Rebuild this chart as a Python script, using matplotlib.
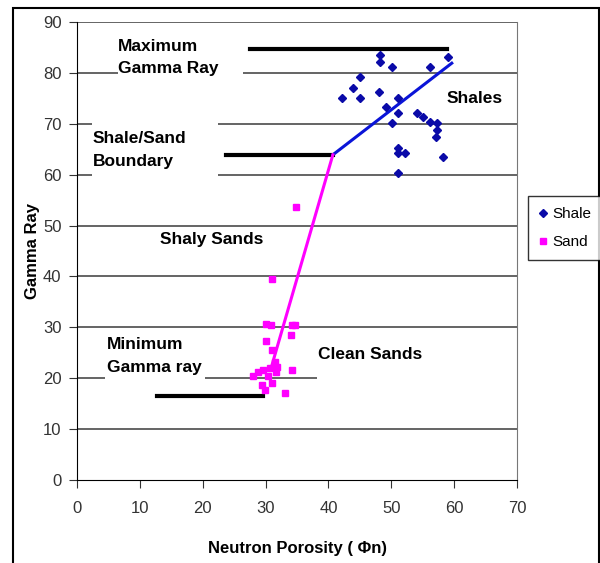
import numpy as np
import matplotlib.pyplot as plt
from matplotlib.patches import Rectangle

# fonte parecida com Arial
plt.rcParams['font.family'] = ['Liberation Sans', 'DejaVu Sans']

# Dados - folhelho (Shale)
shale_x = [42.1, 43.9, 45.0, 45.0, 48.2, 48.2, 48.0, 50.1, 51.0, 49.1, 50.1, 51.0,
           51.0, 51.0, 52.1, 51.0, 54.0, 55.0, 56.1, 56.1, 57.2, 57.2, 57.1, 58.2, 59.0]
shale_y = [75.0, 77.0, 79.2, 75.0, 83.5, 82.1, 76.2, 81.1, 75.0, 73.3, 70.1, 72.1,
           65.2, 64.2, 64.2, 60.3, 72.1, 71.3, 81.1, 70.3, 70.1, 68.8, 67.4, 63.5, 83.1]

# Dados - arenito (Sand)
sand_x = [34.8, 31.0, 30.0, 30.8, 34.2, 34.7, 34.0, 30.0, 31.0, 31.5, 34.2, 28.0,
          28.8, 29.6, 30.7, 31.8, 29.4, 29.9, 31.0, 33.1, 30.4, 31.6]
sand_y = [53.6, 39.5, 30.6, 30.5, 30.5, 30.5, 28.5, 27.3, 25.5, 23.2, 21.6, 20.4,
          21.2, 21.6, 22.0, 22.2, 18.7, 17.7, 19.1, 17.1, 20.4, 21.2]

# Linhas de tendencia
shale_line_x = [40.7, 59.6]
shale_line_y = [63.9, 81.9]
sand_line_x = [31.0, 40.7]
sand_line_y = [22.5, 63.9]

# Linhas pretas (limites)
max_gr_x = [27.5, 58.8]
max_gr = 84.7
bound_x = [23.7, 40.7]
bound_gr = 63.9
min_gr_x = [12.7, 29.6]
min_gr = 16.5

fig = plt.figure(figsize=(6, 5.63), dpi=100)
ax = fig.add_axes([0.128, 0.1474, 0.734, 0.8136])

ax.set_xlim(0, 70)
ax.set_ylim(0, 90)
ax.set_xticks(range(0, 71, 10))
ax.set_yticks(range(0, 91, 10))

# grade horizontal
for g in range(10, 91, 10):
    ax.axhline(g, color='#3a3a3a', lw=1.1, zorder=1)

# caixas brancas atras dos textos (cobrem a grade)
caixas = [(6.5, 76, 19.9, 13), (2.4, 58, 20.0, 14), (4.5, 18, 15.8, 11), (38.2, 18, 31.8, 10)]
for (x0, y0, w, h) in caixas:
    ax.add_patch(Rectangle((x0, y0), w, h, facecolor='white', edgecolor='none', zorder=2))

ax.plot(max_gr_x, [max_gr, max_gr], color='black', lw=3, zorder=3)
ax.plot(bound_x, [bound_gr, bound_gr], color='black', lw=3, zorder=3)
ax.plot(min_gr_x, [min_gr, min_gr], color='black', lw=3, zorder=3)

ax.plot(shale_line_x, shale_line_y, color='#0a14d8', lw=2.2, zorder=4)
ax.plot(sand_line_x, sand_line_y, color='#ff00ff', lw=2.2, zorder=4)

ax.plot(shale_x, shale_y, 'D', color='#0a0aa8', ms=4.5, ls='none', label='Shale', zorder=5)
ax.plot(sand_x, sand_y, 's', color='#ff00ff', ms=5, ls='none', label='Sand', zorder=5)

# textos
fs = 12.5
ax.text(6.5, 83, 'Maximum\nGamma Ray', fontsize=fs, fontweight='bold',
        va='center', ha='left', linespacing=1.65, zorder=6)
ax.text(2.5, 64.8, 'Shale/Sand\nBoundary', fontsize=fs, fontweight='bold',
        va='center', ha='left', linespacing=1.65, zorder=6)
ax.text(58.8, 75, 'Shales', fontsize=fs, fontweight='bold',
        va='center', ha='left', zorder=6)
ax.text(13.2, 47.2, 'Shaly Sands', fontsize=fs, fontweight='bold',
        va='center', ha='left', zorder=6)
ax.text(4.8, 24.4, 'Minimum\nGamma ray', fontsize=fs, fontweight='bold',
        va='center', ha='left', linespacing=1.65, zorder=6)
ax.text(38.3, 24.6, 'Clean Sands', fontsize=fs, fontweight='bold',
        va='center', ha='left', zorder=6)

# eixos
ax.spines['top'].set_visible(False)
ax.spines['right'].set_color('#777777')
ax.spines['left'].set_color('black')
ax.spines['bottom'].set_color('black')
ax.tick_params(direction='out', length=6, labelsize=12, colors='#333333')
ax.tick_params(axis='x', pad=9)
ax.tick_params(axis='y', pad=5)

ax.set_xlabel('Neutron Porosity ( \u03a6n)', fontsize=12, fontweight='bold', labelpad=18)
ax.set_ylabel('Gamma Ray', fontsize=12, fontweight='bold', labelpad=2)

leg = fig.legend(loc='center left', bbox_to_anchor=(0.88, 0.595), fontsize=11,
                 frameon=True, fancybox=False, edgecolor='black', handlelength=0.6,
                 handletextpad=0.3, borderpad=0.7, labelspacing=0.9, borderaxespad=0)
leg.get_frame().set_linewidth(1.0)

# moldura externa
fig.add_artist(Rectangle((13 / 600, -0.1), 586 / 600, 1.1 - 8 / 563, transform=fig.transFigure,
                         fill=False, edgecolor='black', lw=1.5))

fig.savefig('out.png', dpi=100)
